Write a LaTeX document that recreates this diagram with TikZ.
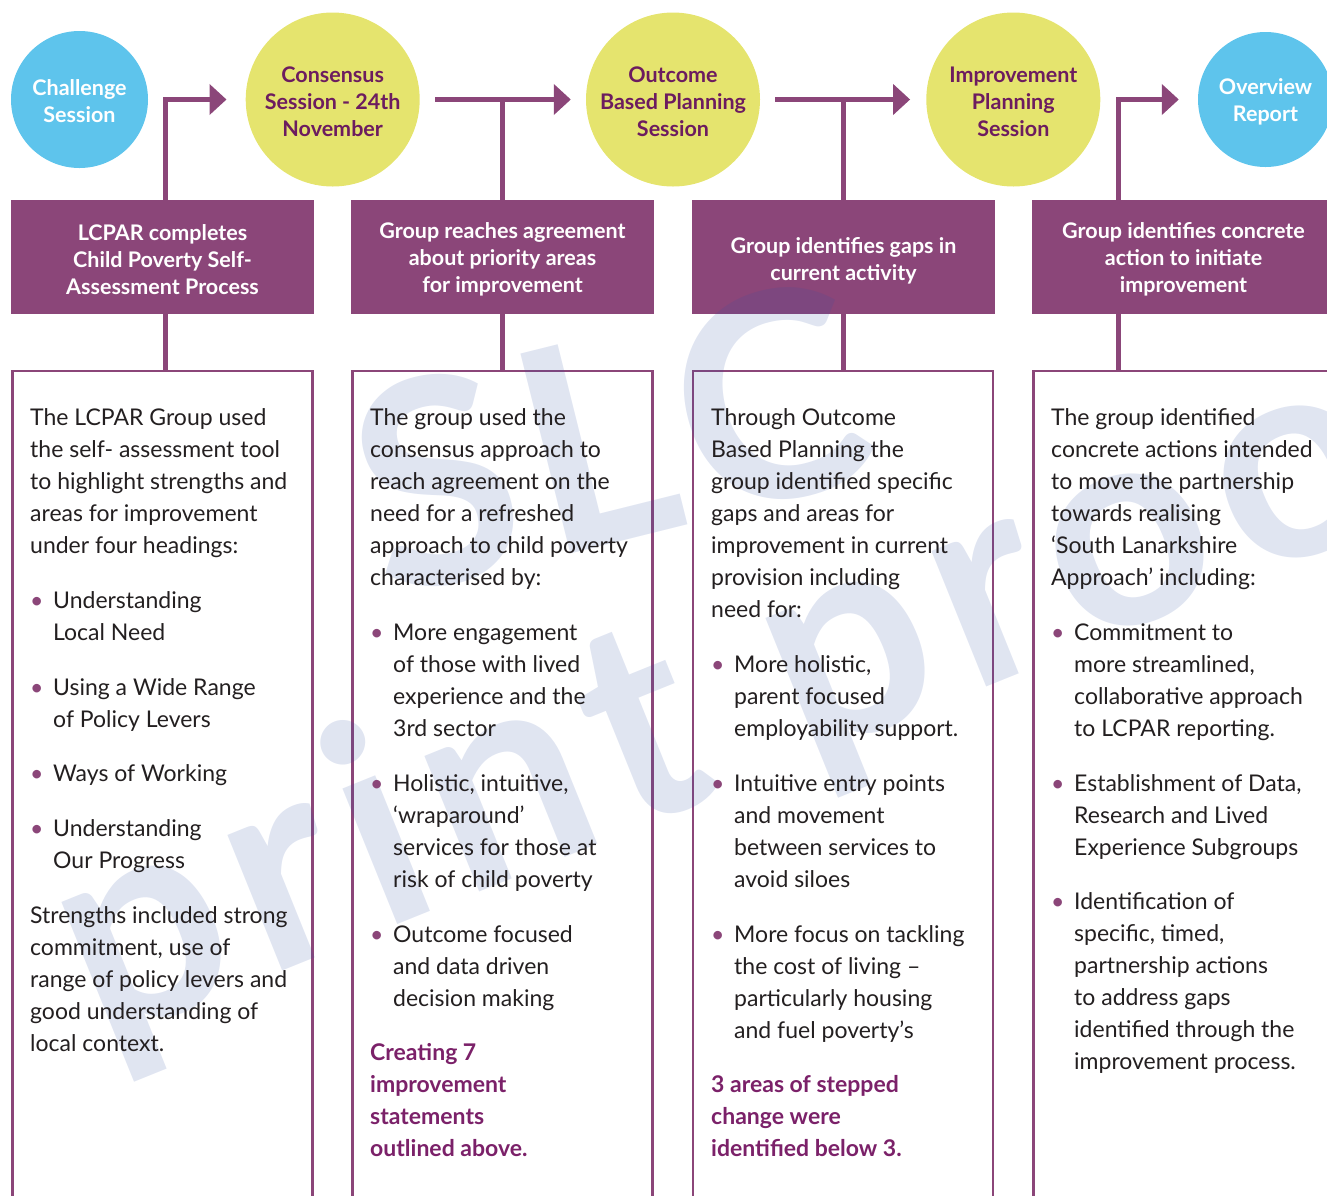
\documentclass[tikz,border=0pt]{standalone}
\usepackage{fontspec}
\setmainfont{Lato}
\usetikzlibrary{arrows.meta}
\definecolor{pboxc}{HTML}{8B4679}
\definecolor{ptext}{HTML}{6C1C5F}
\definecolor{pbold}{HTML}{7B2169}
\definecolor{ylw}{HTML}{E5E46E}
\definecolor{blu}{HTML}{5EC4EC}
\definecolor{bodyc}{HTML}{231F20}
\definecolor{wmc}{HTML}{2E4FA3}
\pgfdeclarelayer{bg}
\pgfdeclarelayer{wm}
\pgfsetlayers{bg,wm,main}
\newcommand\mybul{\makebox[23pt][l]{\textcolor{pboxc}{\textbullet}}}
\newcommand\myind{\hspace*{23pt}}
\newcommand\pb[1]{{\bfseries\color{pbold}#1}}
\newcommand\up[1]{\rule{0pt}{#1pt}}
\begin{document}
\begin{tikzpicture}[x=1pt,y=-1pt,
  conn/.style={draw=pboxc, line width=5pt},
  arr/.style={conn, -{Triangle[length=17pt,width=30pt]}},
  circ/.style={circle, inner sep=0pt, align=center, font=\fontsize{21.5}{27}\selectfont\bfseries},
  hdr/.style={minimum width=303pt, minimum height=114pt, inner sep=0pt, text=white, align=center, font=\fontsize{21.5}{27}\selectfont\bfseries},
  obox/.style={draw=pboxc, line width=2.5pt, minimum width=300pt, minimum height=860pt, inner sep=0pt},
  body/.style={anchor=north west, inner sep=0pt, align=left, text=bodyc, font=\fontsize{23}{32}\selectfont},
  wmk/.style={anchor=base west, inner sep=0pt, text=wmc, text opacity=0.15, font=\bfseries}]
\useasboundingbox (0,0) rectangle (1327,1195);

% circles
\node[circ, fill=blu, minimum size=137pt, text=white] (c1) at (79.5,99.5) {\up{19}Challenge\\Session};
\node[circ, fill=ylw, minimum size=174pt, text=ptext] (c2) at (332.7,99.5) {\up{20}Consensus\\Session - 24th\\November};
\node[circ, fill=ylw, minimum size=174pt, text=ptext] (c3) at (673,99.5) {\up{20}Outcome\\Based Planning\\Session};
\node[circ, fill=ylw, minimum size=174pt, text=ptext] (c4) at (1013.3,99.5) {\up{20}Improvement\\Planning\\Session};
\node[circ, fill=blu, minimum size=135pt, text=white] (c5) at (1265.5,99.5) {\up{21}Overview\\Report};

% header boxes (text; fills on bg layer)
\node[hdr] (h1) at (162.5,257) {\up{21}LCPAR completes\\Child Poverty Self-\\Assessment Process};
\node[hdr] (h2) at (502.5,257) {\up{21}Group reaches agreement\\about priority areas\\for improvement};
\node[hdr] (h3) at (843.5,257) {\up{23}Group identifies gaps in\\current activity};
\node[hdr] (h4) at (1183.5,257) {\up{21}Group identifies concrete\\action to initiate\\improvement};

\begin{pgfonlayer}{bg}
  \foreach \n in {h1,h2,h3,h4} \fill[pboxc] (\n.north west) rectangle (\n.south east);
  \node[obox] (o1) at (162.5,801) {};
  \node[obox] (o2) at (502.5,801) {};
  \node[obox] (o3) at (843,801) {};
  \node[obox, minimum width=310pt] (o4) at (1188.5,801) {};
  % upper connectors
  \draw[arr] ([xshift=3pt]h1.north) |- ([xshift=-19pt]c2.west);
  \draw[conn] (h2.north) -- (h2.north |- c3.west);
  \draw[arr] ([xshift=15.5pt]c2.east) -- ([xshift=-15pt]c3.west);
  \draw[conn] (h3.north) -- (h3.north |- c4.west);
  \draw[arr] ([xshift=15pt]c3.east) -- ([xshift=-16pt]c4.west);
  \draw[arr] ([xshift=87pt]h4.north west) |- ([xshift=-19pt]c5.west);
  % lower connectors
  \draw[conn] ([xshift=3pt]h1.south) -- ([xshift=3pt]h1.south |- o1.north);
  \draw[conn] (h2.south) -- (h2.south |- o2.north);
  \draw[conn] (h3.south) -- (h3.south |- o3.north);
  \draw[conn] ([xshift=87pt]h4.south west) -- ([xshift=87pt]h4.south west |- o4.north);
\end{pgfonlayer}

% watermark
\begin{pgfonlayer}{wm}
  \node[wmk, rotate=14, font=\fontsize{285}{285}\selectfont\bfseries] (w1) at (385,600) {S\kern12pt L\kern11pt C};
  \node[wmk, rotate=22, font=\fontsize{285}{285}\selectfont\bfseries\addfontfeature{LetterSpace=6}] (w2) at (100,1045) {print proof};
\end{pgfonlayer}

% body texts
\node[body] (t1) at (30,405) {\up{20}The LCPAR Group used\\
the self- assessment tool\\
to highlight strengths and\\
areas for improvement\\
under four headings:\\[23pt]
\mybul Understanding\\
\myind Local Need\\[23pt]
\mybul Using a Wide Range\\
\myind of Policy Levers\\[22pt]
\mybul Ways of Working\\[23pt]
\mybul Understanding\\
\myind Our Progress\\[23pt]
Strengths included strong\\
commitment, use of\\
range of policy levers and\\
good understanding of\\
local context.};

\node[body] (t2) at (370,405) {\up{20}The group used the\\
consensus approach to\\
reach agreement on the\\
need for a refreshed\\
approach to child poverty\\
characterised by:\\[23pt]
\mybul More engagement\\
\myind of those with lived\\
\myind experience and the\\
\myind 3rd sector\\[23pt]
\mybul Holistic, intuitive,\\
\myind ‘wraparound’\\
\myind services for those at\\
\myind risk of child poverty\\[23pt]
\mybul Outcome focused\\
\myind and data driven\\
\myind decision making\\[22pt]
\pb{Creating 7}\\
\pb{improvement}\\
\pb{statements}\\
\pb{outlined above.}};

\node[body] (t3) at (711,405) {\up{20}Through Outcome\\
Based Planning the\\
group identified specific\\
gaps and areas for\\
improvement in current\\
provision including\\
need for:\\[23pt]
\mybul More holistic,\\
\myind parent focused\\
\myind employability support.\\[23pt]
\mybul Intuitive entry points\\
\myind and movement\\
\myind between services to\\
\myind avoid siloes\\[23pt]
\mybul More focus on tackling\\
\myind the cost of living –\\
\myind particularly housing\\
\myind and fuel poverty’s\\[22pt]
\pb{3 areas of stepped}\\
\pb{change were}\\
\pb{identified below 3.}};

\node[body] (t4) at (1051,405) {\up{20}The group identified\\
concrete actions intended\\
to move the partnership\\
towards realising\\
‘South Lanarkshire\\
Approach’ including:\\[23pt]
\mybul Commitment to\\
\myind more streamlined,\\
\myind collaborative approach\\
\myind to LCPAR reporting.\\[23pt]
\mybul Establishment of Data,\\
\myind Research and Lived\\
\myind Experience Subgroups\\[22pt]
\mybul Identification of\\
\myind specific, timed,\\
\myind partnership actions\\
\myind to address gaps\\
\myind identified through the\\
\myind improvement process.};
\end{tikzpicture}
\end{document}
